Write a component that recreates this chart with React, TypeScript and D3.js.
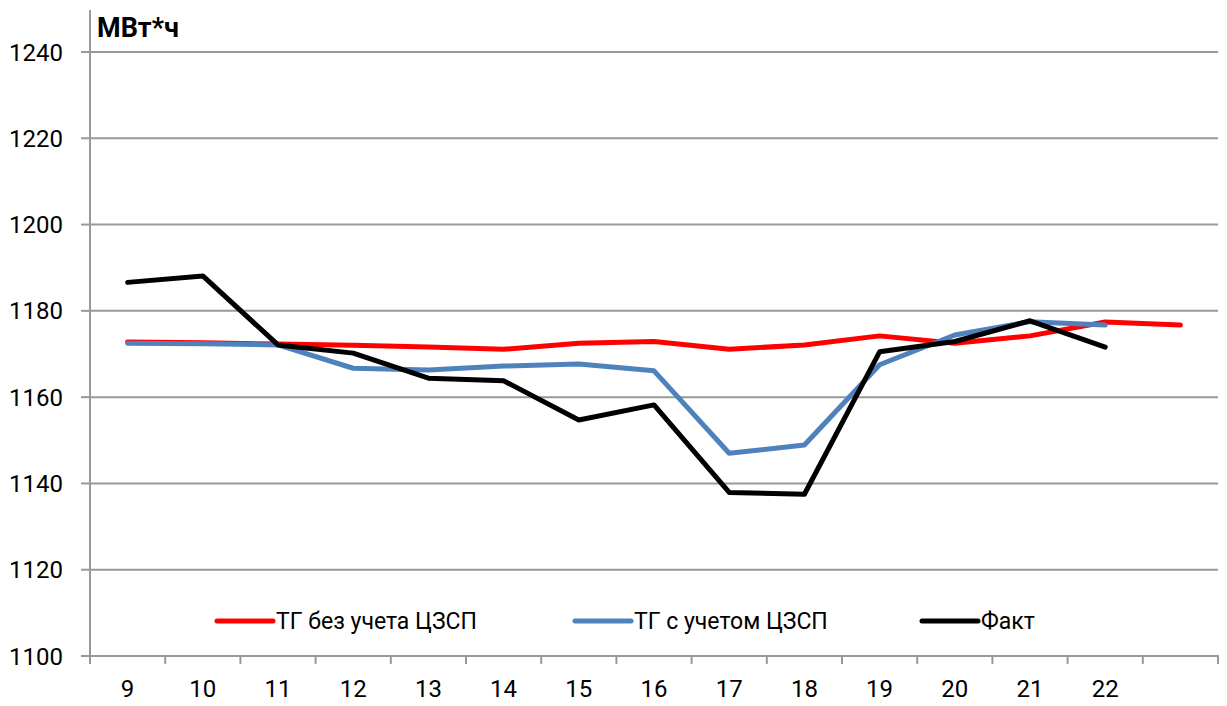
import * as d3 from "d3";

const hours = [9, 10, 11, 12, 13, 14, 15, 16, 17, 18, 19, 20, 21, 22, 23];
const hourLabels = ["9", "10", "11", "12", "13", "14", "15", "16", "17", "18", "19", "20", "21", "22", ""];

const tgWithout = [1172.8, 1172.6, 1172.3, 1172.0, 1171.6, 1171.1, 1172.5, 1172.9, 1171.1, 1172.1, 1174.2, 1172.5, 1174.2, 1177.4, 1176.7];
const tgWith = [1172.5, 1172.4, 1172.1, 1166.7, 1166.3, 1167.2, 1167.7, 1166.1, 1147.0, 1148.9, 1167.5, 1174.4, 1177.5, 1176.7];
const fact = [1186.6, 1188.1, 1172.1, 1170.2, 1164.4, 1163.8, 1154.7, 1158.2, 1137.9, 1137.5, 1170.5, 1172.9, 1177.7, 1171.6];

const yTicks = [1100, 1120, 1140, 1160, 1180, 1200, 1220, 1240];

const seriesNames = ["ТГ без учета ЦЗСП", "ТГ с учетом ЦЗСП", "Факт"];
const seriesColors = ["#ff0000", "#4f81bd", "#000000"];

const WIDTH = 1227;
const HEIGHT = 706;
const FONT = "Roboto, 'Liberation Sans', sans-serif";

export default function App() {
  const x = d3
    .scaleBand<number>()
    .domain(hours)
    .range([90, 1218]);
  const y = d3.scaleLinear().domain([1100, 1240]).range([656, 52]);

  const line = d3
    .line<number>()
    .x((_, i) => (x(hours[i]) ?? 0) + x.bandwidth() / 2)
    .y((d) => y(d));

  const allSeries = [tgWithout, tgWith, fact];
  const legendX = [217, 575, 922];

  return (
    <svg
      width={WIDTH}
      height={HEIGHT}
      style={{ position: "absolute", left: 0, top: 0, background: "#fff" }}
      fontFamily={FONT}
    >
      {yTicks.map((t) => (
        <g key={t}>
          {t > 1100 && (
            <line x1={90} x2={1218} y1={y(t)} y2={y(t)} stroke="#999" strokeWidth={2} />
          )}
          <line x1={81} x2={90} y1={y(t)} y2={y(t)} stroke="#999" strokeWidth={2} />
          <text x={63} y={y(t)} dy="0.36em" textAnchor="end" fontSize={24} fill="#000">
            {t}
          </text>
        </g>
      ))}

      <line x1={90} x2={90} y1={10} y2={656} stroke="#999" strokeWidth={2} />
      <line x1={81} x2={1219} y1={656} y2={656} stroke="#999" strokeWidth={2} />
      {[...hours.map((h) => x(h) ?? 0), 1218].map((bx, i) => (
        <line key={i} x1={bx} x2={bx} y1={656} y2={664} stroke="#999" strokeWidth={2} />
      ))}
      {hours.map((h, i) => (
        <text
          key={h}
          x={(x(h) ?? 0) + x.bandwidth() / 2}
          y={697}
          textAnchor="middle"
          fontSize={24}
          fill="#000"
        >
          {hourLabels[i]}
        </text>
      ))}

      <text x={97} y={37} fontSize={27} fontWeight="bold" fill="#000">
        МВт*ч
      </text>

      {allSeries.map((s, i) => (
        <path
          key={i}
          d={line(s) ?? undefined}
          fill="none"
          stroke={seriesColors[i]}
          strokeWidth={5}
          strokeLinejoin="round"
          strokeLinecap="round"
        />
      ))}

      {seriesNames.map((name, i) => (
        <g key={name}>
          <line
            x1={legendX[i]}
            x2={legendX[i] + 56}
            y1={621}
            y2={621}
            stroke={seriesColors[i]}
            strokeWidth={5}
            strokeLinecap="round"
          />
          <text x={legendX[i] + 59} y={621} dy="0.36em" fontSize={23} fill="#000">
            {name}
          </text>
        </g>
      ))}
    </svg>
  );
}
